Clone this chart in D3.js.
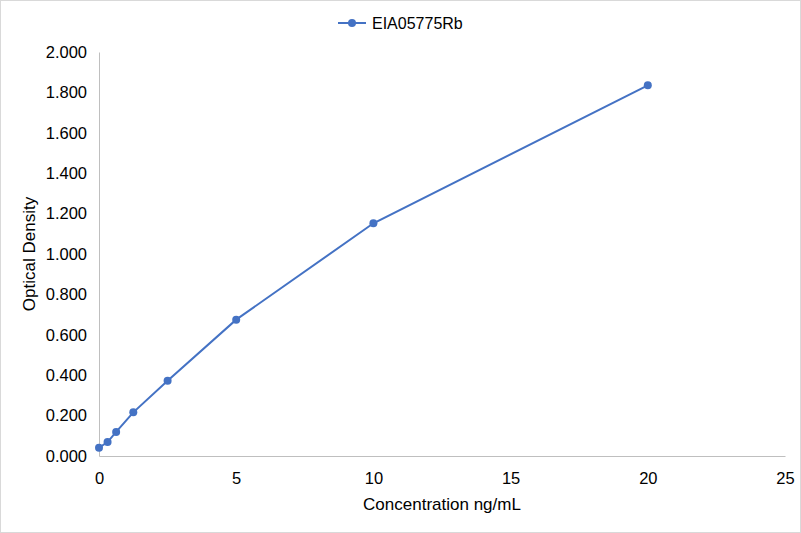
<!DOCTYPE html>
<html>
<head>
<meta charset="utf-8">
<script src="https://cdn.jsdelivr.net/npm/d3@7"></script>
<style>
  body { margin: 0; background: #fff; }
  text { font-family: "Liberation Sans", Arial, sans-serif; }
</style>
</head>
<body>
<div id="chart"></div>
<script>
// standard curve values
var seriesName = "EIA05775Rb";
var concentrations = [0, 0.3125, 0.625, 1.25, 2.5, 5, 10, 20];
var densities = [0.041, 0.069, 0.119, 0.216, 0.372, 0.675, 1.152, 1.835];
var xTicks = [0, 5, 10, 15, 20, 25];
var yTicks = [0, 0.2, 0.4, 0.6, 0.8, 1.0, 1.2, 1.4, 1.6, 1.8, 2.0];

var W = 801, H = 533,
	margin = {top: 52, right: 16, bottom: 77, left: 99},
	width = W - margin.left - margin.right,
	height = H - margin.top - margin.bottom,
	blue = "#4472c4";

var x = d3.scaleLinear().domain([0, 25]).range([0, width]),
	y = d3.scaleLinear().domain([0, 2]).range([height, 0]);

var svg = d3.select("#chart").append("svg")
	.attr("width", W).attr("height", H);

svg.append("rect")
	.attr("x", 0.5).attr("y", 0.5)
	.attr("width", W - 1).attr("height", H - 1)
	.attr("fill", "#fff").attr("stroke", "#d9d9d9");

var g = svg.append("g")
	.attr("transform", "translate(" + margin.left + "," + margin.top + ")");

// x axis
var xa = g.append("g")
	.attr("transform", "translate(0," + height + ")")
	.call(d3.axisBottom(x).tickValues(xTicks).tickSize(0).tickPadding(16).tickFormat(d3.format("d")));
xa.select(".domain").attr("stroke", "#bfbfbf");
xa.selectAll("text").attr("font-size", "16.5px").attr("fill", "#000");

// y axis
var ya = g.append("g")
	.call(d3.axisLeft(y).tickValues(yTicks).tickSize(0).tickPadding(12).tickFormat(d3.format(".3f")));
ya.select(".domain").attr("stroke", "#bfbfbf");
ya.selectAll("text").attr("font-size", "16.5px").attr("fill", "#000");

// axis titles
svg.append("text")
	.attr("x", 442)
	.attr("y", 510)
	.attr("text-anchor", "middle")
	.attr("font-size", "17px")
	.text("Concentration ng/mL");

svg.append("text")
	.attr("transform", "translate(35," + (margin.top + height / 2) + ") rotate(-90)")
	.attr("text-anchor", "middle")
	.attr("font-size", "17px")
	.text("Optical Density");

// line + points
var pts = concentrations.map(function(c, i){ return {c: c, v: densities[i]}; });

g.append("path")
	.datum(pts)
	.attr("fill", "none")
	.attr("stroke", blue)
	.attr("stroke-width", 2)
	.attr("d", d3.line().x(function(d){ return x(d.c); }).y(function(d){ return y(d.v); }));

g.selectAll(".pt")
	.data(pts)
	.enter()
	.append("circle")
	.attr("class", "pt")
	.attr("cx", function(d){ return x(d.c); })
	.attr("cy", function(d){ return y(d.v); })
	.attr("r", 4)
	.attr("fill", blue);

// legend
var lg = svg.append("g").attr("transform", "translate(338,23)");
lg.append("line").attr("x1", 0).attr("x2", 28).attr("y1", 0).attr("y2", 0)
	.attr("stroke", blue).attr("stroke-width", 2);
lg.append("circle").attr("cx", 14).attr("cy", 0).attr("r", 4).attr("fill", blue);
lg.append("text").attr("x", 34).attr("y", 6).attr("font-size", "16px").text(seriesName);
</script>
</body>
</html>
